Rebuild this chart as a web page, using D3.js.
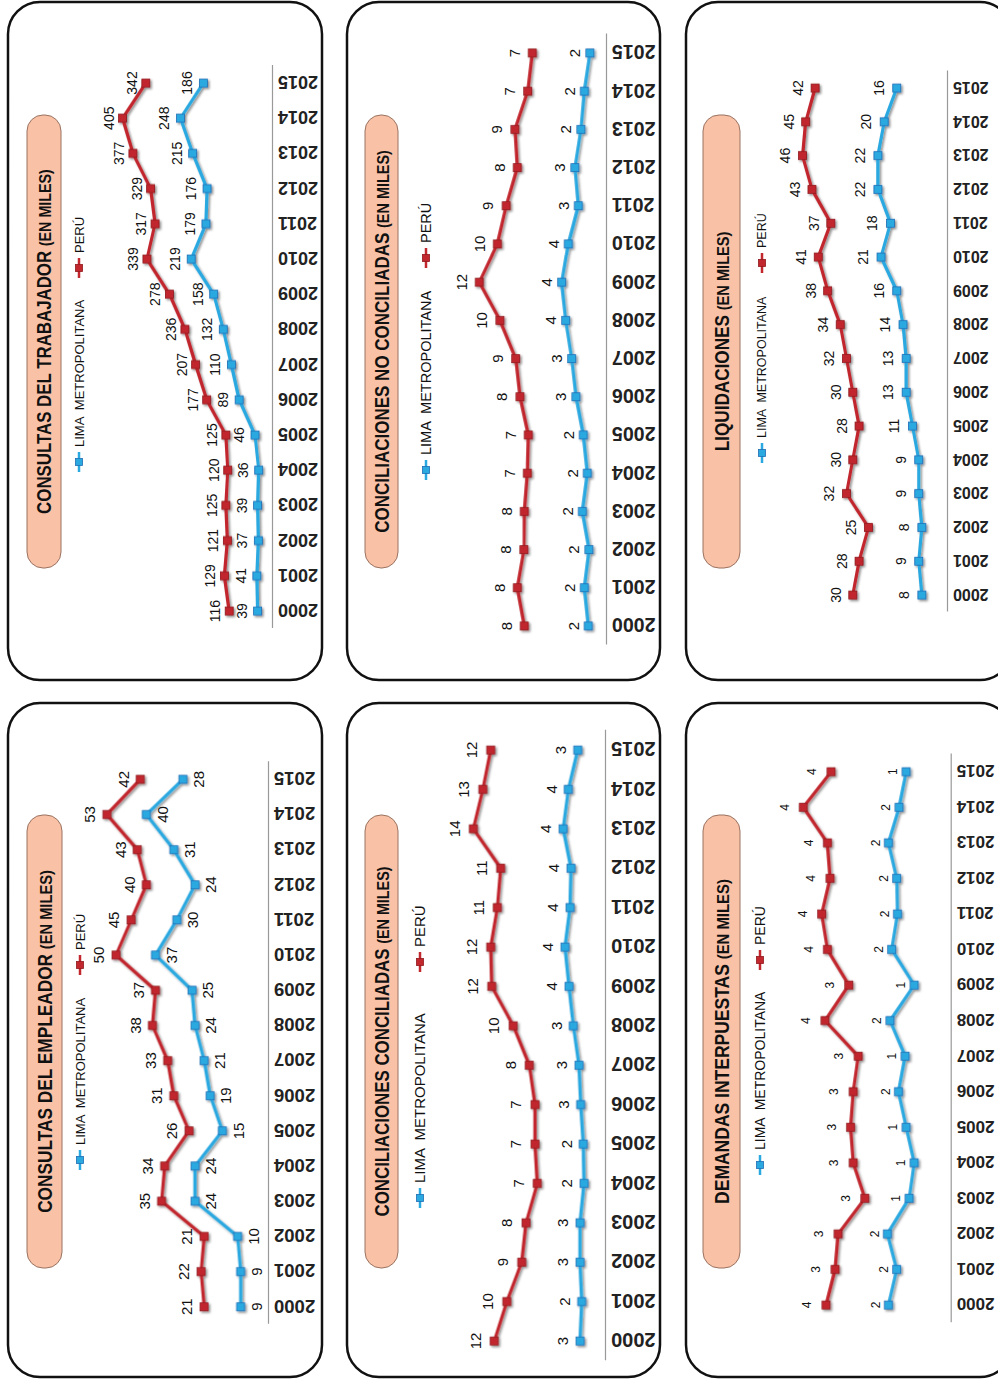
<!DOCTYPE html>
<html><head><meta charset="utf-8">
<script src="https://cdn.jsdelivr.net/npm/d3@7"></script>
<style>body{margin:0;background:#fff}svg{display:block}text{font-family:"Liberation Sans",Arial,sans-serif}</style>
</head><body><svg id="c" width="998" height="1379"></svg>
<script>
const years = ["2000","2001","2002","2003","2004","2005","2006","2007","2008","2009","2010","2011","2012","2013","2014","2015"];

// Consultas del trabajador (miles)
const trabajadorPeru = [116,129,121,125,120,125,177,207,236,278,339,317,329,377,405,342];
const trabajadorLima = [39,41,37,39,36,46,89,110,132,158,219,179,176,215,248,186];
// Conciliaciones no conciliadas (miles)
const noConciliadasPeru = [7.74,8.4,7.77,7.74,7.45,7.36,8.14,8.55,10.04,12.0,10.29,9.45,8.4,8.62,7.41,6.98];
const noConciliadasLima = [1.68,2.05,1.61,2.24,1.77,2.15,2.84,3.25,3.82,4.2,3.57,2.62,2.94,2.37,2.05,1.52];
// Liquidaciones (miles)
const liquidacionesPeru = [30,28,25,32,30,28,30,32,34,38,41,37,43,46,45,42];
const liquidacionesLima = [8,9,8,9,9,11,13,13,14,16,21,18,22,22,20,16];
// Consultas del empleador (miles)
const empleadorPeru = [21,22,21,35,34,26,31,33,38,37,50,45,40,43,53,42];
const empleadorLima = [9,9,10,24,24,15,19,21,24,25,37,30,24,31,40,28];
// Conciliaciones conciliadas (miles)
const conciliadasPeru = [11.78,10.45,8.86,8.4,7.2,7.45,7.45,8.05,9.76,12.05,12.16,11.45,11.1,14.0,13.0,12.16];
const conciliadasLima = [2.66,2.48,2.66,2.66,2.23,2.31,2.59,2.77,3.37,3.83,4.26,3.72,3.62,4.45,3.9,2.9];
// Demandas interpuestas (miles)
const demandasPeru = [3.72,3.45,3.36,2.56,2.91,2.99,2.91,2.76,3.75,3.04,3.68,3.85,3.6,3.68,4.4,3.57];
const demandasLima = [1.86,1.61,1.89,1.24,1.09,1.33,1.56,1.36,1.81,1.09,1.76,1.59,1.61,1.86,1.54,1.33];

const titles = ["CONSULTAS DEL TRABAJADOR","CONCILIACIONES NO CONCILIADAS","LIQUIDACIONES","CONSULTAS DEL EMPLEADOR","CONCILIACIONES CONCILIADAS","DEMANDAS INTERPUESTAS"];
const subtitle = "(EN MILES)";
const legendLabels = ["LIMA  METROPOLITANA","PERÚ"];

const RED = "#c1272d", RED_D = "#8f1a1f", BLUE = "#2aa8e0", BLUE_D = "#1f6db5";

const panels = [
 {box:[8,2,322,680], tbox:[27,115,61,568], tlen:345, axisX:272, y0:611, step:35.2, yMax:450, H:166, peru:trabajadorPeru, lima:trabajadorLima, lbl:14, offR:-14, offB:-16, yf:18, leg:{x:79, lima:462, peru:268, size:13}},
 {box:[347,2,660,680], tbox:[365,115,398,568], tlen:383, axisX:606, y0:626, step:38.2, yMax:14, H:147.8, peru:noConciliadasPeru, lima:noConciliadasLima, lbl:15, offR:-18, offB:-15, yf:19.5, leg:{x:426, lima:470, peru:258, size:14.5}},
 {box:[686,2,1012,680], tbox:[703,115,740,568], tlen:220, axisX:947, y0:595, step:33.8, yMax:50, H:157, peru:liquidacionesPeru, lima:liquidacionesLima, lbl:14, offR:-17, offB:-18, yf:16, leg:{x:762, lima:453, peru:263, size:12.5}},
 {box:[8,703,322,1377], tbox:[27,815,62,1268], tlen:343, axisX:268, y0:1306.7, step:35.16, yMax:60, H:182.4, peru:empleadorPeru, lima:empleadorLima, lbl:15, offR:-17, offB:16, yf:18.5, leg:{x:80, lima:1160, peru:965, size:13}},
 {box:[347,703,660,1377], tbox:[365,815,398,1268], tlen:350, axisX:605, y0:1341, step:39.4, yMax:16, H:150.4, peru:conciliadasPeru, lima:conciliadasLima, lbl:15, offR:-19, offB:-17, yf:20, leg:{x:420, lima:1198, peru:962, size:15}},
 {box:[686,703,1012,1377], tbox:[703,815,740,1268], tlen:325, axisX:950.7, y0:1305, step:35.55, yMax:5, H:167.5, peru:demandasPeru, lima:demandasLima, lbl:12, offR:-19, offB:-13, yf:17, leg:{x:760, lima:1165, peru:960, size:14}}
];

const svg = d3.select("#c");
const defs = svg.append("defs");
const f = defs.append("filter").attr("id","sh").attr("x","-20%").attr("y","-20%").attr("width","140%").attr("height","140%");
f.append("feDropShadow").attr("dx",-1.6).attr("dy",1.6).attr("stdDeviation",1.3).attr("flood-color","#000").attr("flood-opacity",0.45);

const fmt = d3.format(".0f");
const MS = 8;

panels.forEach((p, i) => {
  const g = svg.append("g");
  g.append("rect").attr("x",p.box[0]).attr("y",p.box[1]).attr("width",p.box[2]-p.box[0]).attr("height",p.box[3]-p.box[1])
    .attr("rx",32).attr("fill","#fff").attr("stroke","#111").attr("stroke-width",2.5);
  const tb = p.tbox;
  g.append("rect").attr("x",tb[0]).attr("y",tb[1]).attr("width",tb[2]-tb[0]).attr("height",tb[3]-tb[1])
    .attr("rx",16).attr("fill","#f9c2a7").attr("stroke","#9a7260").attr("stroke-width",1);
  const cx = (tb[0]+tb[2])/2, cy = (tb[1]+tb[3])/2;
  const tt = g.append("text").attr("text-anchor","middle").attr("font-weight","bold")
    .attr("font-family","'Liberation Sans Narrow','DejaVu Sans Condensed',sans-serif").attr("fill","#111");
  tt.append("tspan").attr("font-size",20).text(titles[i] + " ");
  tt.append("tspan").attr("font-size",17).text(subtitle);
  const L = tt.node().getComputedTextLength();
  tt.attr("transform",`translate(${cx + 7},${cy}) rotate(-90) scale(${p.tlen/L},1)`);

  const legItems = [{label:legendLabels[0], y:p.leg.lima, c:BLUE, cd:BLUE_D},{label:legendLabels[1], y:p.leg.peru, c:RED, cd:RED_D}];
  legItems.forEach(it => {
    const lg = g.append("g").attr("transform",`translate(${p.leg.x},${it.y}) rotate(-90)`);
    lg.append("line").attr("x1",-10).attr("x2",10).attr("stroke",it.c).attr("stroke-width",2.5);
    lg.append("rect").attr("x",-3.5).attr("y",-3.5).attr("width",7).attr("height",7).attr("fill",it.c).attr("stroke",it.cd).attr("stroke-width",0.8);
    lg.append("text").attr("x",15).attr("dy","0.35em").attr("font-size",p.leg.size).attr("fill","#111")
      .style("white-space","pre").text(it.label);
  });

  const W = p.step * years.length;
  const yBottom = p.y0 + p.step/2;
  const cg = g.append("g").attr("transform",`translate(${p.axisX - p.H},${yBottom}) rotate(-90)`);
  const x = d3.scalePoint().domain(years).range([0, W]).padding(0.5);
  const y = d3.scaleLinear().domain([0, p.yMax]).range([p.H, 0]);

  const ax = cg.append("g").attr("transform",`translate(0,${p.H})`).call(d3.axisBottom(x).tickSize(0).tickSizeOuter(0));
  ax.select(".domain").attr("stroke","#999").attr("stroke-width",1.2);
  ax.selectAll("text").attr("transform","rotate(-90)").attr("x",-6).attr("y",0).attr("dy","0.36em")
    .attr("text-anchor","end").attr("font-size",p.yf).attr("font-weight","bold").attr("fill","#222")
    .attr("font-family","'Liberation Sans',Arial,sans-serif");

  const series = [{vals:p.lima, c:BLUE, cd:BLUE_D, off:p.offB},{vals:p.peru, c:RED, cd:RED_D, off:p.offR}];
  series.forEach(s => {
    const data = years.map((yr,k)=>({yr, v:s.vals[k]}));
    const sg = cg.append("g").attr("filter","url(#sh)");
    sg.append("path").datum(data).attr("fill","none").attr("stroke",s.c).attr("stroke-width",3.2)
      .attr("stroke-linejoin","round").attr("d", d3.line().x(d=>x(d.yr)).y(d=>y(d.v)));
    sg.selectAll("rect").data(data).join("rect")
      .attr("x",d=>x(d.yr)-MS/2).attr("y",d=>y(d.v)-MS/2).attr("width",MS).attr("height",MS)
      .attr("fill",s.c).attr("stroke",s.cd).attr("stroke-width",0.8);
    cg.append("g").selectAll("text").data(data).join("text")
      .attr("x",d=>x(d.yr)).attr("y",d=>y(d.v)+s.off).attr("dy","0.35em").attr("text-anchor","middle")
      .attr("font-size",p.lbl).attr("fill","#111").text(d=>fmt(d.v));
  });
});
</script></body></html>
